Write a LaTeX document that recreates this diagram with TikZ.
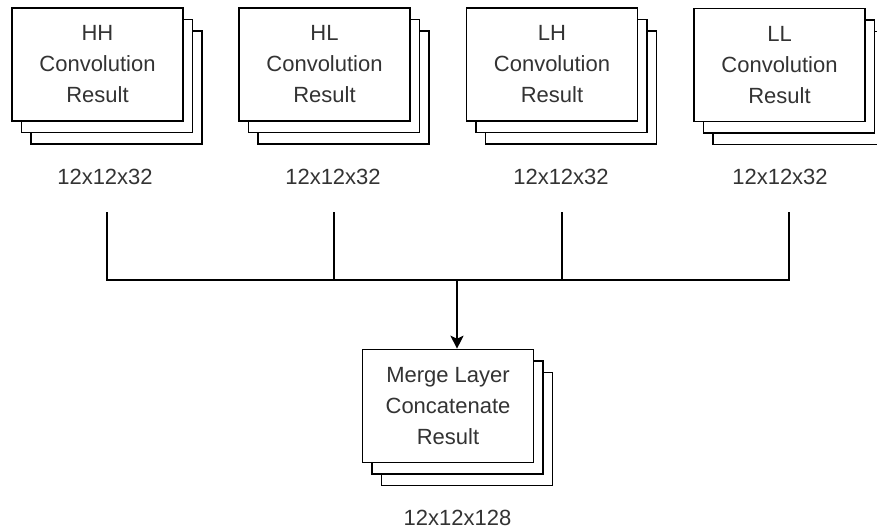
\documentclass[tikz,border=0pt]{standalone}
\usepackage{fontspec}
\setmainfont{Liberation Sans}
\usetikzlibrary{shadows,arrows.meta}
\definecolor{txtgray}{HTML}{333333}

\begin{document}
\begin{tikzpicture}[x=1pt, y=-1pt,
    stack/.style={draw=black, fill=white, line width=1.6pt,
        minimum width=171pt, minimum height=113pt, inner sep=0pt,
        align=center, text=txtgray, font=\fontsize{22}{31}\selectfont,
        double copy shadow={shadow xshift=9.5pt, shadow yshift=-11.5pt,
            draw=black, fill=white, line width=1.6pt}},
    dimlabel/.style={text=txtgray, font=\fontsize{22}{26}\selectfont, inner sep=0pt},
    wire/.style={line width=1.6pt}]
    \useasboundingbox (0, 0) rectangle (877, 532);

    \node[stack] (hh) at (97.5, 64.5) {HH\\Convolution\\Result};
    \node[stack] (hl) at (324.5, 64.5) {HL\\Convolution\\Result};
    \node[stack] (lh) at (552, 64.5) {LH\\Convolution\\Result};
    \node[stack] (ll) at (779.5, 65) {LL\\Convolution\\Result};
    \node[stack] (merge) at (448, 406) {Merge Layer\\Concatenate\\Result};

    \node[dimlabel] (hhdim) at (105, 177) {12x12x32};
    \node[dimlabel] (hldim) at (333, 177) {12x12x32};
    \node[dimlabel] (lhdim) at (561, 177) {12x12x32};
    \node[dimlabel] (lldim) at (780, 177) {12x12x32};
    \node[dimlabel] (mergedim) at (457.5, 518) {12x12x128};

    \coordinate (hhtop) at (107, 212);
    \coordinate (hltop) at (334, 212);
    \coordinate (lhtop) at (562, 212);
    \coordinate (lltop) at (789, 212);
    \coordinate (bus) at (457, 280);

    \draw[wire] (hhtop) -- (hhtop |- bus) -- (lltop |- bus) -- (lltop);
    \draw[wire] (hltop) -- (hltop |- bus);
    \draw[wire] (lhtop) -- (lhtop |- bus);
    \draw[wire, -{Stealth[width=13pt, length=13pt, inset=3pt]}] (bus) -- (bus |- merge.north);
\end{tikzpicture}
\end{document}
